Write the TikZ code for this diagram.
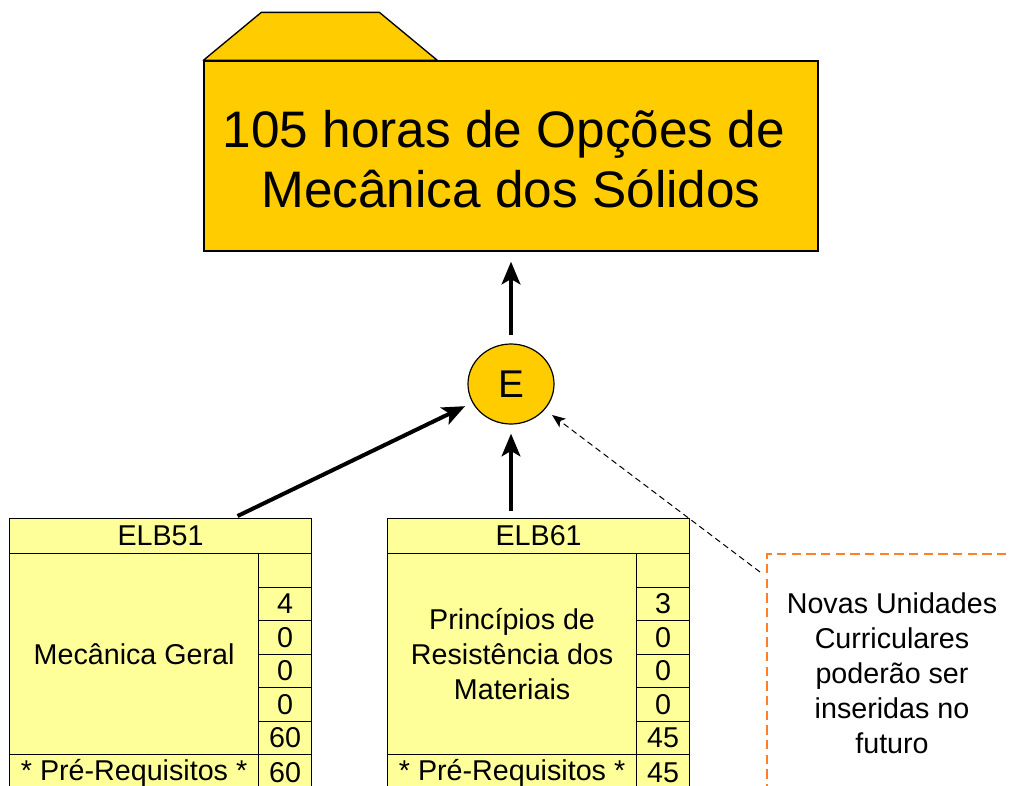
\documentclass[tikz,border=0pt]{standalone}
\usepackage{fontspec}
\setmainfont{Liberation Sans}
\usetikzlibrary{shapes.geometric,arrows.meta,calc}
\definecolor{gold}{HTML}{FFCC00}
\definecolor{lightyel}{HTML}{FFFF99}
\definecolor{notecol}{HTML}{FF7F27}
\tikzset{
  cell/.style={draw, fill=lightyel, line width=0.9pt, inner sep=0pt, anchor=north west,
    align=center, font=\fontsize{21.5}{26}\selectfont},
  bigarrow/.style={line width=3pt, -{Stealth[length=17pt,width=14pt,inset=4pt]}},
  thinarrow/.style={line width=0.75pt, dash pattern=on 4.5pt off 3pt,
    -{Stealth[length=10pt,width=8pt,inset=2.5pt]}},
}
\newcommand\ucbox[9]{%
  \node[cell, minimum width=226.5pt, minimum height=26.25pt] (#1t) at (#2,518) {#3};
  \node[cell, minimum width=186.75pt, minimum height=150.75pt] (#1n) at (#2,553) {#4};
  \node[cell, minimum width=39.75pt, minimum height=25.125pt] (#1c0) at (#2+249,553) {};
  \node[cell, minimum width=39.75pt, minimum height=25.125pt] (#1c1) at (#2+249,586.5) {#5};
  \node[cell, minimum width=39.75pt, minimum height=25.125pt] (#1c2) at (#2+249,620) {#6};
  \node[cell, minimum width=39.75pt, minimum height=25.125pt] (#1c3) at (#2+249,653.5) {#7};
  \node[cell, minimum width=39.75pt, minimum height=25.125pt] (#1c4) at (#2+249,687) {#8};
  \node[cell, minimum width=39.75pt, minimum height=25.125pt] (#1c5) at (#2+249,720.5) {#9};
  \node[cell, minimum width=186.75pt, minimum height=27pt] (#1p) at (#2,754) {* Pré-Requisitos *};
  \node[cell, minimum width=39.75pt, minimum height=27pt] (#1ph) at (#2+249,754) {#9};
}
\begin{document}
\begin{tikzpicture}[x=0.75pt,y=-0.75pt]
\useasboundingbox (0,0) rectangle (1009,785);
\clip (0,0) rectangle (1009,785);
% folder
\node[draw, fill=gold, line width=1pt, minimum width=460.5pt, minimum height=142.5pt,
  inner sep=0pt] (main) at (511,156) {};
\node[align=center, inner sep=0pt, font=\fontsize{38.5}{45.5}\selectfont] (maintext)
  at ($(main.center)+(0,3)$) {105 horas de Opções de\hspace*{0.28em}\\Mecânica dos Sólidos};
\draw[fill=gold, line width=1pt, line join=round] (main.north west) -- ++(58,-48) -- ++(118,0) -- ++(58,48) -- cycle;
% E
\node[ellipse, draw, fill=gold, line width=0.9pt, minimum width=64.5pt, minimum height=60pt,
  inner sep=0pt, font=\fontsize{29}{34}\selectfont] (E) at (511,384) {E};
% course boxes
\ucbox{a}{9}{ELB51}{Mecânica Geral}{4}{0}{0}{0}{60}
\ucbox{b}{387}{ELB61}{Princípios de\\Resistência dos\\Materiais}{3}{0}{0}{0}{45}
% note
\node[draw=notecol, line width=1.5pt, dash pattern=on 7pt off 4pt, minimum width=187.5pt,
  minimum height=178.5pt, inner sep=0pt, align=center, anchor=north west,
  font=\fontsize{21.5}{26.25}\selectfont] (note) at (766,553)
  {Novas Unidades\\Curriculares\hspace*{0.28em}\\poderão ser\\inseridas no\\futuro};
% connectors
\draw[bigarrow, shorten <=6pt, shorten >=7.5pt] (E.north) -- (main.south);
\draw[bigarrow, shorten <=5.25pt, shorten >=6.75pt] (E |- bt.north) -- (E.south);
\coordinate (s51) at ($(at.north)+(77,-2)$);
\draw[bigarrow, shorten >=6pt] (s51) -- (E);
\coordinate (nstart) at ($(note.north west)+(-6,19)$);
\draw[thinarrow, shorten >=6.75pt] (nstart) -- (E);
\end{tikzpicture}
\end{document}
